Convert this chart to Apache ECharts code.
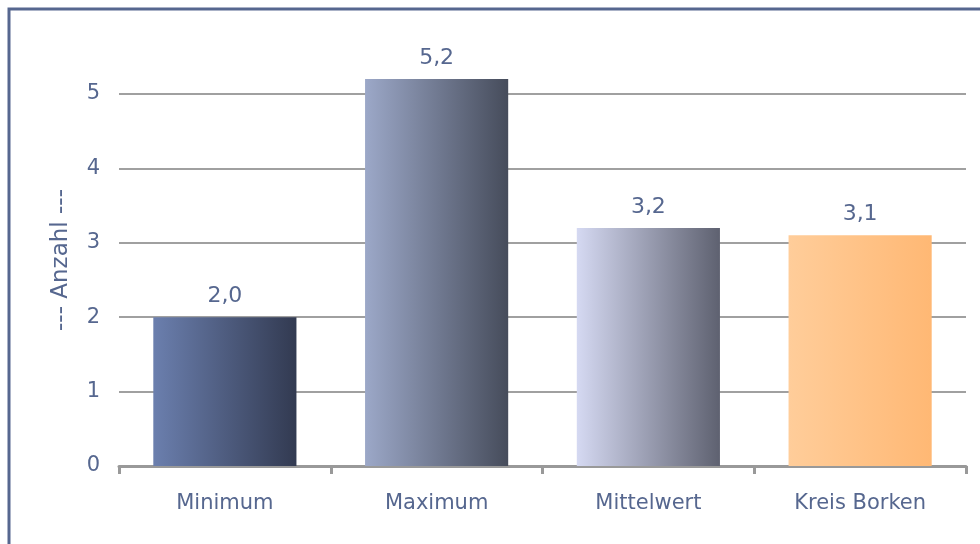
<!DOCTYPE html>
<html>
<head>
<meta charset="utf-8">
<script src="https://cdn.jsdelivr.net/npm/echarts@6/dist/echarts.min.js"></script>
<style>
  html, body { margin: 0; padding: 0; background: #fff; }
  #main { width: 980px; height: 544px; }
</style>
</head>
<body>
<div id="main"></div>
<script>
var categories = ['Minimum', 'Maximum', 'Mittelwert', 'Kreis Borken'];
var values = [2.0, 5.2, 3.2, 3.1];
var yTicks = [0, 1, 2, 3, 4, 5];

// Verlauf links -> rechts je Balken
var barColors = [
  ['#6b7fae', '#323a51'],
  ['#9ca8c8', '#464c5b'],
  ['#d5d9f2', '#5e6170'],
  ['#ffcd9a', '#ffb874']
];

var textColor = '#56678f';
var fontName = '"DejaVu Sans", Verdana, sans-serif';

var myChart = echarts.init(document.getElementById('main'));

var seriesData = values.map(function (v, i){
  return {
    value: v,
    itemStyle: {
      color: new echarts.graphic.LinearGradient(0, 0, 1, 0, [
        {offset: 0, color: barColors[i][0]},
        {offset: 1, color: barColors[i][1]}
      ])
    }
  };
});

var option = {
  animation: false,
  backgroundColor: '#fff',
  textStyle: {fontFamily: fontName},
  graphic: [
    {
      type: 'rect',
      shape: {x: 9, y: 9, width: 1000, height: 600},
      style: {fill: 'none', stroke: '#56678f', lineWidth: 3},
      silent: true
    }
  ],
  grid: {left: 119, right: 14, top: 94, bottom: 78},
  xAxis: {
    type: 'category',
    data: categories,
    axisLine: {lineStyle: {color: '#999', width: 3}},
    axisTick: {show: true, length: 8, lineStyle: {color: '#999', width: 3}},
    axisLabel: {color: textColor, fontSize: 21, margin: 27, fontFamily: fontName}
  },
  yAxis: {
    type: 'value',
    min: yTicks[0],
    max: yTicks[yTicks.length - 1],
    interval: 1,
    name: '--- Anzahl ---',
    nameLocation: 'middle',
    nameGap: 46,
    nameTextStyle: {color: textColor, fontSize: 23, fontFamily: fontName, padding: [0, 0, 0, 40]},
    axisLine: {show: false},
    axisTick: {show: false},
    axisLabel: {color: textColor, fontSize: 21, margin: 19, fontFamily: fontName},
    splitLine: {lineStyle: {color: '#a0a0a0', width: 2}}
  },
  series: [
    {
      type: 'bar',
      data: seriesData,
      barWidth: '67.6%',
      clip: false,
      label: {
        show: true,
        position: 'top',
        distance: 10,
        color: textColor,
        fontSize: 22,
        fontFamily: fontName,
        formatter: function (p){
          return p.value.toFixed(1).replace('.', ',');
        }
      }
    }
  ]
};
myChart.setOption(option);
</script>
</body>
</html>
